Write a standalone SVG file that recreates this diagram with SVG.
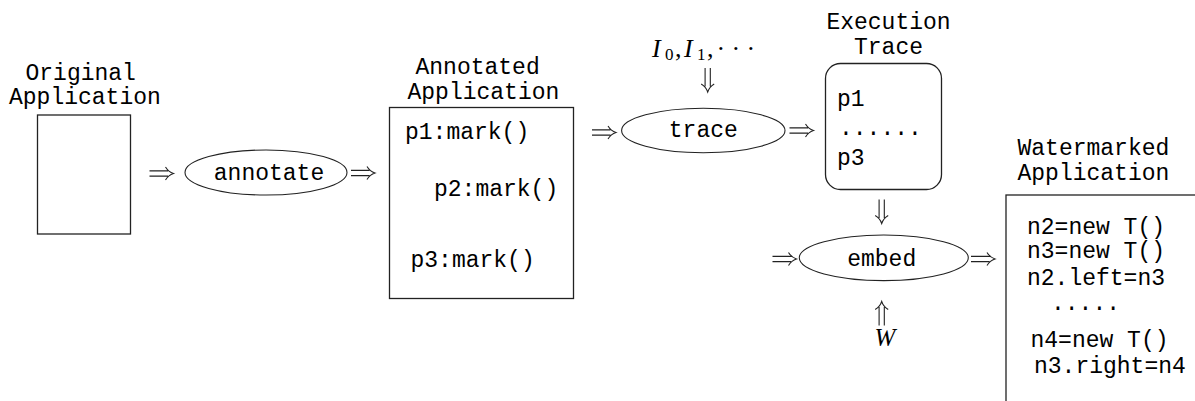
<svg xmlns="http://www.w3.org/2000/svg" width="1195" height="401" viewBox="0 0 1195 401">
  <style>
    .tt { font-family: "Liberation Mono", "DejaVu Sans Mono", monospace; font-size: 23px; fill: #000; }
    .box { fill: #fff; stroke: #222; stroke-width: 1.3; }
    .oval { fill: #fff; stroke: #222; stroke-width: 1.1; }
    .math { font-family: "Liberation Serif", "DejaVu Serif", serif; fill: #000; }
    .it { font-style: italic; }
    .arr { fill: none; stroke: #222; stroke-width: 1.1; }
  </style>
  <defs>
    <!-- double-stroke arrow, pointing right, tip at the origin -->
    <path id="dbl" d="M-24,-2.6 H-5.5 M-24,2.6 H-5.5 M-8,-6.5 Q-5,-1.6 0,0 Q-5,1.6 -8,6.5"/>
  </defs>

  <rect width="1195" height="401" fill="#fff"/>

  <!-- original program -->
  <g id="original">
    <text class="tt" x="25.5" y="80">Original</text>
    <text class="tt" x="9" y="104">Application</text>
    <rect class="box" x="37.5" y="115" width="93" height="119"/>
  </g>

  <!-- annotate step -->
  <g id="annotate">
    <ellipse class="oval" cx="266" cy="172.5" rx="81" ry="22.5"/>
    <text class="tt" x="269" y="180" text-anchor="middle">annotate</text>
  </g>

  <!-- annotated program -->
  <g id="annotated">
    <text class="tt" x="415.5" y="74">Annotated</text>
    <text class="tt" x="407.5" y="98.5">Application</text>
    <rect class="box" x="389.5" y="107.5" width="184" height="191"/>
    <text class="tt" x="405" y="139">p1:mark()</text>
    <text class="tt" x="434" y="196">p2:mark()</text>
    <text class="tt" x="410.5" y="267">p3:mark()</text>
  </g>

  <!-- program inputs -->
  <g id="inputs">
    <text class="math" font-size="26">
      <tspan class="it" x="652" y="57">I</tspan><tspan x="665" y="60" font-size="17">0</tspan><tspan x="675" y="57">,</tspan><tspan class="it" x="684" y="57">I</tspan><tspan x="697" y="60" font-size="17">1</tspan><tspan x="707" y="57">,</tspan><tspan x="716.5" y="57">·</tspan><tspan x="731.5" y="57">·</tspan><tspan x="746.5" y="57">·</tspan>
    </text>
  </g>

  <!-- trace step -->
  <g id="trace">
    <ellipse class="oval" cx="703.3" cy="130.5" rx="81.7" ry="22.2"/>
    <text class="tt" x="703.3" y="137" text-anchor="middle">trace</text>
  </g>

  <!-- execution trace -->
  <g id="execution-trace">
    <text class="tt" x="888.5" y="28.5" text-anchor="middle">Execution</text>
    <text class="tt" x="888.5" y="54" text-anchor="middle">Trace</text>
    <rect class="box" x="825.5" y="63.5" width="116" height="126" rx="15" ry="15"/>
    <text class="tt" x="837" y="106">p1</text>
    <text class="tt" x="839" y="135">......</text>
    <text class="tt" x="837" y="165">p3</text>
  </g>

  <!-- embed step -->
  <g id="embed">
    <ellipse class="oval" cx="883.8" cy="257.8" rx="84.5" ry="22.8"/>
    <text class="tt" x="881.7" y="266" text-anchor="middle">embed</text>
  </g>

  <!-- watermark -->
  <g id="watermark">
    <text class="math it" x="885" y="346" font-size="25" text-anchor="middle">W</text>
  </g>

  <!-- watermarked program -->
  <g id="watermarked">
    <text class="tt" x="1017.5" y="155">Watermarked</text>
    <text class="tt" x="1017.5" y="180">Application</text>
    <rect class="box" x="1006" y="195" width="230" height="240"/>
    <text class="tt" x="1027" y="234">n2=new T()</text>
    <text class="tt" x="1027" y="257.5">n3=new T()</text>
    <text class="tt" x="1027" y="284.5">n2.left=n3</text>
    <text class="tt" x="1051" y="310">.....</text>
    <text class="tt" x="1030.5" y="347">n4=new T()</text>
    <text class="tt" x="1034" y="373">n3.right=n4</text>
  </g>

  <!-- flow arrows -->
  <g id="connectors" class="arr">
    <use href="#dbl" transform="translate(173.5,173.5)"/>
    <use href="#dbl" transform="translate(375,173)"/>
    <use href="#dbl" transform="translate(616,132.5)"/>
    <use href="#dbl" transform="translate(813.5,130.5)"/>
    <use href="#dbl" transform="translate(796.5,259)"/>
    <use href="#dbl" transform="translate(995,259)"/>
    <use href="#dbl" transform="translate(707.7,92) rotate(90)"/>
    <use href="#dbl" transform="translate(881.7,223.5) rotate(90)"/>
    <use href="#dbl" transform="translate(881.7,301.5) rotate(-90)"/>
  </g>
</svg>
